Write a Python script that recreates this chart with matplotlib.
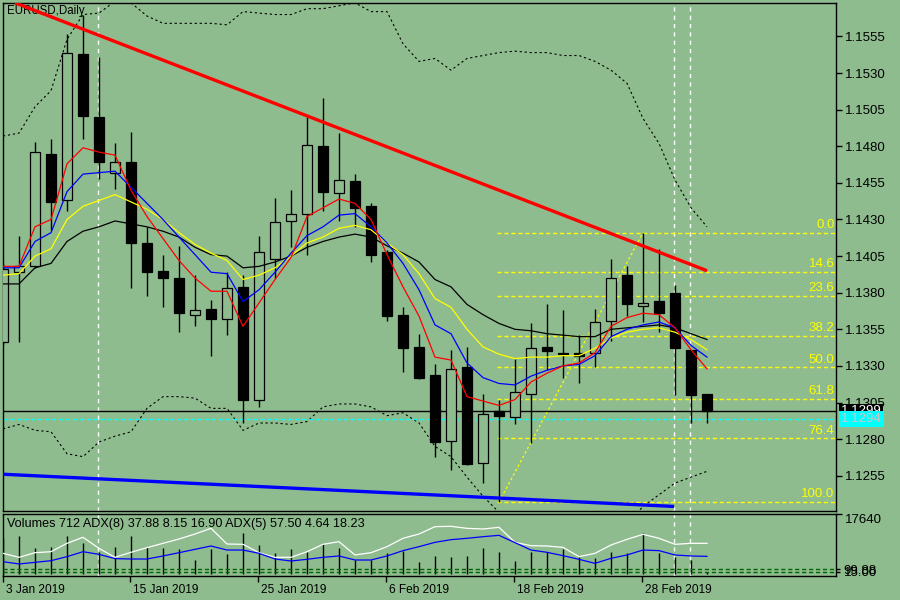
import matplotlib
matplotlib.use("Agg")
import matplotlib.pyplot as plt
import matplotlib.transforms as mtransforms
import numpy as np

BG = "#8fbc8f"
plt.rcParams["font.family"] = ["Liberation Sans", "DejaVu Sans"]

# --- data (EURUSD daily, 3 Jan .. 6 Mar 2019) ---
opens = [1.1346, 1.1394, 1.1398, 1.1475, 1.1443, 1.1543, 1.1500, 1.1462, 1.1469, 1.1414,
         1.1395, 1.1390, 1.1365, 1.1369, 1.1362, 1.1384, 1.1307, 1.1403, 1.1429, 1.1434,
         1.1480, 1.1448, 1.1456, 1.1439, 1.1408, 1.1365, 1.1343, 1.1324, 1.1279, 1.1329,
         1.1264, 1.1299, 1.1295, 1.1311, 1.1343, 1.1339, 1.1339, 1.1339, 1.1361, 1.1392,
         1.1371, 1.1374, 1.1380, 1.1341, 1.1311]
highs = [1.1400, 1.1419, 1.1483, 1.1485, 1.1557, 1.1570, 1.1541, 1.1482, 1.1490, 1.1425,
         1.1406, 1.1412, 1.1392, 1.1375, 1.1394, 1.1392, 1.1419, 1.1445, 1.1450, 1.1500,
         1.1513, 1.1489, 1.1461, 1.1441, 1.1409, 1.1370, 1.1352, 1.1331, 1.1341, 1.1343,
         1.1311, 1.1307, 1.1335, 1.1359, 1.1372, 1.1368, 1.1351, 1.1369, 1.1403, 1.1398,
         1.1421, 1.1410, 1.1385, 1.1341, 1.1311]
lows = [1.1344, 1.1346, 1.1397, 1.1423, 1.1436, 1.1485, 1.1458, 1.1451, 1.1383, 1.1378,
        1.1370, 1.1353, 1.1357, 1.1337, 1.1351, 1.1291, 1.1302, 1.1390, 1.1411, 1.1406,
        1.1436, 1.1429, 1.1425, 1.1401, 1.1361, 1.1326, 1.1321, 1.1268, 1.1259, 1.1262,
        1.1250, 1.1237, 1.1290, 1.1277, 1.1327, 1.1322, 1.1318, 1.1329, 1.1347, 1.1364,
        1.1360, 1.1353, 1.1310, 1.1291, 1.1291]
closes = [1.1396, 1.1398, 1.1476, 1.1442, 1.1544, 1.1501, 1.1469, 1.1469, 1.1414, 1.1394,
          1.1390, 1.1366, 1.1368, 1.1362, 1.1383, 1.1307, 1.1408, 1.1428, 1.1434, 1.1481,
          1.1449, 1.1457, 1.1438, 1.1406, 1.1364, 1.1342, 1.1322, 1.1278, 1.1328, 1.1263,
          1.1297, 1.1296, 1.1312, 1.1342, 1.1340, 1.1338, 1.1337, 1.1360, 1.1390, 1.1372,
          1.1373, 1.1366, 1.1342, 1.1310, 1.1299]

ma_red = [1.1398, 1.1398, 1.1425, 1.1430, 1.1468, 1.1479, 1.1476, 1.1474, 1.1450, 1.1432,
          1.1417, 1.1402, 1.1390, 1.1381, 1.1381, 1.1357, 1.1373, 1.1389, 1.1404, 1.1432,
          1.1438, 1.1444, 1.1441, 1.1430, 1.1406, 1.1384, 1.1364, 1.1336, 1.1334, 1.1309,
          1.1306, 1.1303, 1.1307, 1.1319, 1.1325, 1.1330, 1.1332, 1.1339, 1.1357, 1.1363,
          1.1366, 1.1365, 1.1356, 1.1341, 1.1328]
ma_blue = [1.1397, 1.1397, 1.1415, 1.1421, 1.1449, 1.1461, 1.1462, 1.1463, 1.1452, 1.1441,
           1.1430, 1.1418, 1.1406, 1.1394, 1.1393, 1.1374, 1.1382, 1.1394, 1.1407, 1.1419,
           1.1425, 1.1433, 1.1434, 1.1425, 1.1414, 1.1400, 1.1382, 1.1358, 1.1352, 1.1332,
           1.1322, 1.1318, 1.1317, 1.1323, 1.1327, 1.1330, 1.1331, 1.1337, 1.1350, 1.1355,
           1.1358, 1.1360, 1.1356, 1.1344, 1.1336]
ma_yellow = [1.1392, 1.1393, 1.1405, 1.1410, 1.1430, 1.1439, 1.1443, 1.1447, 1.1442, 1.1437,
             1.1430, 1.1421, 1.1413, 1.1407, 1.1402, 1.1389, 1.1392, 1.1397, 1.1405, 1.1414,
             1.1418, 1.1424, 1.1426, 1.1423, 1.1414, 1.1406, 1.1393, 1.1376, 1.1370, 1.1355,
             1.1343, 1.1338, 1.1335, 1.1336, 1.1336, 1.1337, 1.1337, 1.1342, 1.1349, 1.1353,
             1.1355, 1.1356, 1.1353, 1.1348, 1.1341]
ma_black = [1.1386, 1.1386, 1.1397, 1.1400, 1.1415, 1.1422, 1.1425, 1.1429, 1.1427, 1.1425,
            1.1422, 1.1418, 1.1411, 1.1406, 1.1405, 1.1397, 1.1398, 1.1401, 1.1405, 1.1411,
            1.1415, 1.1418, 1.1420, 1.1418, 1.1412, 1.1407, 1.1401, 1.1389, 1.1384, 1.1372,
            1.1365, 1.1359, 1.1355, 1.1354, 1.1352, 1.1351, 1.1350, 1.1350, 1.1355, 1.1356,
            1.1357, 1.1358, 1.1356, 1.1352, 1.1348]

bb_upper = [1.1487, 1.1489, 1.1507, 1.1518, 1.1553, 1.1570, 1.1571, 1.1579, 1.1578, 1.1569,
            1.1564, 1.1564, 1.1564, 1.1564, 1.1563, 1.1572, 1.1571, 1.1570, 1.1570, 1.1574,
            1.1574, 1.1576, 1.1578, 1.1572, 1.1572, 1.1550, 1.1538, 1.1540, 1.1532, 1.1540,
            1.1542, 1.1544, 1.1545, 1.1544, 1.1544, 1.1542, 1.1542, 1.1538, 1.1532, 1.1523,
            1.1499, 1.1482, 1.1457, 1.1438, 1.1425]
bb_lower = [1.1287, 1.1290, 1.1286, 1.1285, 1.1270, 1.1268, 1.1278, 1.1282, 1.1285, 1.1301,
            1.1309, 1.1309, 1.1308, 1.1301, 1.1301, 1.1286, 1.1291, 1.1291, 1.1290, 1.1292,
            1.1302, 1.1304, 1.1304, 1.1302, 1.1296, 1.1298, 1.1291, 1.1275, 1.1268, 1.1254,
            1.1241, 1.1230, 1.1223, 1.1218, 1.1214, 1.1212, 1.1210, 1.1210, 1.1214, 1.1222,
            1.1234, 1.1242, 1.1250, 1.1254, 1.1258]

volumes = [10500, 11200, 7600, 7900, 11200, 9070, 6610, 8070, 11200, 7900,
           7600, 7310, 4180, 7400, 5940, 12170, 8570, 6140, 7310, 6610,
           8780, 7600, 4180, 4180, 6140, 6900, 3690, 5350, 5060, 5350,
           7780, 6520, 3890, 6610, 6440, 7400, 5150, 4680, 6440, 6140,
           11990, 6140, 5150, 4180, 712]
adx_white = [36.6, 30.1, 37.6, 39.2, 52.7, 62.4, 44.6, 30.1, 38.2, 45.7,
             52.7, 59.7, 67.7, 76.9, 51.6, 51.1, 37.6, 30.1, 30.1, 39.2,
             51.1, 55.4, 33.9, 37.6, 47.3, 60.8, 67.7, 79.6, 80.1, 76.9,
             75.8, 78.5, 54.3, 48.9, 48.4, 46.2, 31.2, 36.6, 50.0, 59.1,
             67.2, 60.8, 51.1, 52.7, 52.7]
adx_blue = [23.1, 19.4, 22.0, 24.7, 31.2, 39.2, 34.9, 28.0, 27.4, 27.4,
            32.3, 37.6, 43.0, 48.4, 41.9, 41.9, 36.6, 27.4, 24.2, 26.9,
            30.1, 32.3, 25.8, 25.8, 32.3, 40.9, 47.3, 54.3, 58.6, 60.8,
            63.4, 65.6, 53.8, 41.9, 38.2, 32.8, 26.9, 20.4, 28.5, 33.9,
            41.9, 40.9, 33.9, 32.3, 31.7]
adx_levels = [10.8, 6.5]
adx_level_labels = ["99.88", "15.00"]
volume_max = 17640

x_labels = ["3 Jan 2019", "15 Jan 2019", "25 Jan 2019", "6 Feb 2019", "18 Feb 2019", "28 Feb 2019"]
x_label_bars = [0, 8, 16, 24, 32, 40]
price_ticks = [1.1255, 1.1280, 1.1305, 1.1330, 1.1355, 1.1380, 1.1405, 1.1430,
               1.1455, 1.1480, 1.1505, 1.1530, 1.1555]

red_trend_x, red_trend_y = [0.75, 44.0], [1.1578, 1.1395]
blue_trend_x, blue_trend_y = [0.0, 41.94], [1.1256, 1.1234]
fib_high, fib_low = 1.1421, 1.1237
fib_high_bar, fib_low_bar = 40, 31
fib_levels = [0.0, 14.6, 23.6, 38.2, 50.0, 61.8, 76.4, 100.0]
vline_bars = [5.94, 41.94, 42.94]
bid_price = 1.1299
ask_price = 1.1294

# --- layout ---
fig = plt.figure(figsize=(9, 6), dpi=100, facecolor=BG)
ax = fig.add_axes([3 / 900, 89 / 600, 833 / 900, 508 / 600], facecolor=BG)
ax2 = fig.add_axes([3 / 900, 24 / 600, 833 / 900, 62 / 600], facecolor=BG)

n = len(closes)
idx = np.arange(n)
xmax = 833 / 16
ax.set_xlim(0, xmax)
ax.set_ylim(1.123089, 1.157788)

# fibonacci
rng = fib_high - fib_low
for lv in fib_levels:
    p = fib_high - rng * lv / 100
    ax.plot([fib_low_bar - 0.1, xmax], [p, p], color="yellow", lw=1,
            linestyle=(0, (3, 2)), zorder=1.5)
    ax.text(xmax - 0.1, p + 0.00012, f"{lv:.1f}", color="yellow", fontsize=9.5,
            ha="right", va="bottom", zorder=6)
ax.plot([fib_low_bar, fib_high_bar], [fib_low, fib_high], color="yellow", lw=0.9,
        linestyle=(0, (2, 2)), zorder=1.5)

for vb in vline_bars:
    ax.axvline(vb, color="white", lw=1, linestyle=(0, (3, 3)), zorder=1.4)
    ax2.axvline(vb, color="white", lw=1, linestyle=(0, (3, 3)), zorder=1.4)

# bollinger
ax.plot(idx, bb_upper, color="black", lw=0.8, linestyle=(0, (2, 2.5)), zorder=2)
ax.plot(idx, bb_lower, color="black", lw=0.8, linestyle=(0, (2, 2.5)), zorder=2)

# price lines
ax.axhline(bid_price, color="black", lw=1, zorder=2)
ax.axhline(ask_price, color="cyan", lw=1, linestyle=(0, (3, 2)), zorder=2)

# candles
o = np.array(opens); c = np.array(closes)
ax.vlines(idx, lows, highs, color="black", lw=1, zorder=3)
up = c >= o
body_lo = np.minimum(o, c)
body_h = np.maximum(np.abs(c - o), 0.00004)
ax.bar(idx[up], body_h[up], bottom=body_lo[up], width=0.62, color=BG,
       edgecolor="black", linewidth=0.9, zorder=3.5)
ax.bar(idx[~up], body_h[~up], bottom=body_lo[~up], width=0.62, color="black",
       edgecolor="black", linewidth=0.9, zorder=3.5)

# moving averages
ax.plot(idx, ma_black, color="black", lw=0.9, zorder=4)
ax.plot(idx, ma_yellow, color="yellow", lw=0.9, zorder=4)
ax.plot(idx, ma_blue, color="blue", lw=0.9, zorder=4)
ax.plot(idx, ma_red, color="red", lw=0.9, zorder=4)

# trend lines
ax.plot(red_trend_x, red_trend_y, color="red", lw=2.4, zorder=5, solid_capstyle="butt")
ax.plot(blue_trend_x, blue_trend_y, color="blue", lw=2.4, zorder=5, solid_capstyle="butt")

ax.text(4 / 833, 0.984, "EURUSD,Daily", transform=ax.transAxes, fontsize=8.3,
        va="center", ha="left", color="black")

ax.yaxis.tick_right()
ax.set_yticks(price_ticks)
ax.set_yticklabels([f"{v:.4f}" for v in price_ticks])
ax.tick_params(axis="y", length=4, width=1, pad=2.5, labelsize=9.5, colors="black")
ax.tick_params(axis="x", bottom=False, labelbottom=False)
for s in ax.spines.values():
    s.set_color("black"); s.set_linewidth(1)

blend = mtransforms.blended_transform_factory(ax.transAxes, ax.transData)
ax.text(1.0 + 5 / 833, bid_price, f"{bid_price:.4f}", transform=blend, fontsize=9.5,
        color="white", va="center", ha="left", zorder=7, clip_on=False,
        bbox=dict(boxstyle="square,pad=0.12", fc="black", ec="none"))
ax.text(1.0 + 5 / 833, ask_price, f"{ask_price:.4f}", transform=blend, fontsize=9.5,
        color="#c8c8c8", va="center", ha="left", zorder=8, clip_on=False,
        bbox=dict(boxstyle="square,pad=0.15", fc="cyan", ec="none"))

# --- volume / ADX panel ---
ax2.set_xlim(0, xmax)
ax2.set_ylim(-500, volume_max)
ax2.vlines(idx, 0, volumes, color="black", lw=1, zorder=2)
ax2.set_xticks([max(b - 0.06, 0.02) for b in x_label_bars])
ax2.set_xticklabels(x_labels, fontsize=8.6, ha="left")
ax2.tick_params(axis="x", length=4, width=1, pad=2, direction="out")
offset = mtransforms.ScaledTranslation(2 / 72, 0, fig.dpi_scale_trans)
for lbl in ax2.get_xticklabels():
    lbl.set_transform(lbl.get_transform() + offset)
for s in ax2.spines.values():
    s.set_color("black"); s.set_linewidth(1)

ax3 = ax2.twinx()
ax3.set_ylim(0, 100)
ax3.set_xlim(0, xmax)
for lv in adx_levels:
    ax3.axhline(lv, color="#006400", lw=1, linestyle=(0, (3, 2)))
ax3.plot(idx, adx_white, color="white", lw=0.9)
ax3.plot(idx, adx_blue, color="blue", lw=0.9)
ax3.set_yticks(adx_levels)
ax3.set_yticklabels(adx_level_labels)
ax3.tick_params(axis="y", length=3, width=1, pad=2.5, labelsize=9.5)
for s in ax3.spines.values():
    s.set_visible(False)

# twinx moves ax2's ticks to the left, put them back on the right
ax2.yaxis.tick_right()
ax2.set_yticks([volume_max])
ax2.set_yticklabels([str(volume_max)], va="top")
ax2.tick_params(axis="y", length=4, width=1, pad=2.5, labelsize=9.5)

ax2.text(4 / 833, 0.84, "Volumes 712 ADX(8) 37.88 8.15 16.90 ADX(5) 57.50 4.64 18.23",
         transform=ax2.transAxes, fontsize=9.1, va="center", ha="left", color="black")

fig.savefig("out.png", dpi=100, facecolor=BG)
